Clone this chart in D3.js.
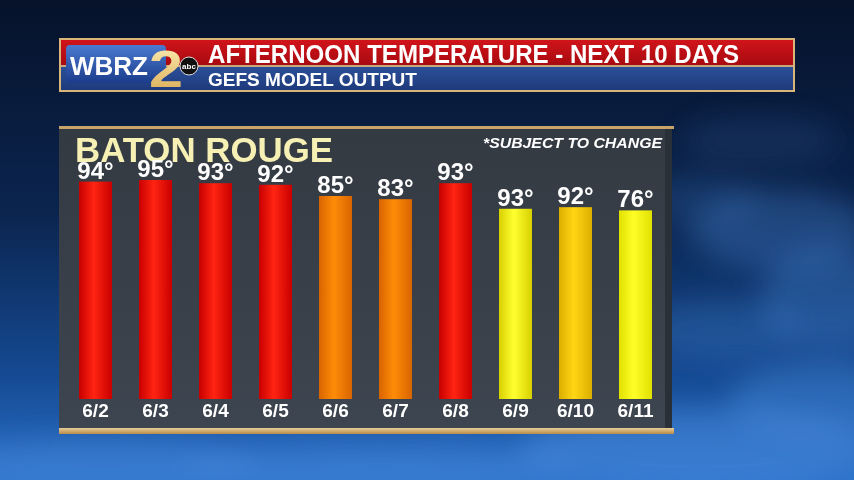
<!DOCTYPE html>
<html><head><meta charset="utf-8">
<script src="https://cdn.jsdelivr.net/npm/d3@7/dist/d3.min.js"></script>
<style>html,body{margin:0;padding:0;background:#0a1a30;overflow:hidden}svg{display:block}</style>
</head><body>
<script>
// ---- data ----
const dates = ["6/2","6/3","6/4","6/5","6/6","6/7","6/8","6/9","6/10","6/11"];
const tempLabels = [94,95,93,92,85,83,93,93,92,76];      // printed labels
const barTemps   = [94,95,93,92,85,83,93,77,78,76];      // heights as drawn in the graphic
const title = "AFTERNOON TEMPERATURE - NEXT 10 DAYS";
const subtitle = "GEFS MODEL OUTPUT";
const city = "BATON ROUGE";
const note = "*SUBJECT TO CHANGE";

const W = 854, H = 480;
const svg = d3.select("body").append("svg").attr("width", W).attr("height", H);
const defs = svg.append("defs");

// background
const bg = defs.append("linearGradient").attr("id","bg").attr("x1",0).attr("y1",0).attr("x2",0).attr("y2",1);
bg.append("stop").attr("offset","0%").attr("stop-color","#06122a");
bg.append("stop").attr("offset","45%").attr("stop-color","#0b2550");
bg.append("stop").attr("offset","78%").attr("stop-color","#154a92");
bg.append("stop").attr("offset","100%").attr("stop-color","#2a70c8");
svg.append("rect").attr("width",W).attr("height",H).attr("fill","url(#bg)");
const blur = defs.append("filter").attr("id","blur").attr("x","-50%").attr("y","-50%").attr("width","200%").attr("height","200%");
blur.append("feGaussianBlur").attr("stdDeviation",14);
const clouds = [[780,230,90,40,0.3],[830,300,70,50,0.3],[720,330,80,30,0.22],[700,200,60,25,0.18],
  [100,465,160,25,0.4],[380,468,200,22,0.4],[700,450,180,40,0.45],[820,400,90,40,0.35],[760,140,80,25,0.12]];
svg.append("g").attr("filter","url(#blur)").selectAll("ellipse").data(clouds).join("ellipse")
  .attr("cx",d=>d[0]).attr("cy",d=>d[1]).attr("rx",d=>d[2]).attr("ry",d=>d[3])
  .attr("fill","#4f92e4").attr("opacity",d=>d[4]);

// header
const hdr = svg.append("g");
hdr.append("rect").attr("x",59).attr("y",38).attr("width",736).attr("height",54).attr("fill","#d9b57a");
const rg = defs.append("linearGradient").attr("id","red").attr("x1",0).attr("y1",0).attr("x2",0).attr("y2",1);
rg.append("stop").attr("offset","0%").attr("stop-color","#d0141a");
rg.append("stop").attr("offset","100%").attr("stop-color","#a80a10");
hdr.append("rect").attr("x",61).attr("y",40).attr("width",732).attr("height",25).attr("fill","url(#red)");
hdr.append("rect").attr("x",61).attr("y",65).attr("width",732).attr("height",2).attr("fill","#c8a880");
const bl = defs.append("linearGradient").attr("id","blu").attr("x1",0).attr("y1",0).attr("x2",0).attr("y2",1);
bl.append("stop").attr("offset","0%").attr("stop-color","#2c4f98");
bl.append("stop").attr("offset","100%").attr("stop-color","#1e3a7c");
hdr.append("rect").attr("x",61).attr("y",67).attr("width",732).attr("height",23).attr("fill","url(#blu)");
// logo
const lg = defs.append("linearGradient").attr("id","logo").attr("x1",0).attr("y1",0).attr("x2",0).attr("y2",1);
lg.append("stop").attr("offset","0%").attr("stop-color","#4a7ad0");
lg.append("stop").attr("offset","100%").attr("stop-color","#1c3c8c");
hdr.append("rect").attr("x",66).attr("y",45).attr("width",100).attr("height",38).attr("rx",4).attr("fill","url(#logo)");
hdr.append("text").attr("x",70).attr("y",75).attr("font-family","Liberation Sans, Arial, sans-serif")
  .attr("font-weight","bold").attr("font-size",25).attr("fill","#ffffff").attr("textLength",78).attr("lengthAdjust","spacingAndGlyphs").text("WBRZ");
const gg = defs.append("linearGradient").attr("id","gold").attr("x1",0).attr("y1",0).attr("x2",0).attr("y2",1);
gg.append("stop").attr("offset","0%").attr("stop-color","#fff0b8");
gg.append("stop").attr("offset","100%").attr("stop-color","#d8a850");
hdr.append("text").attr("x",149).attr("y",87).attr("font-family","Liberation Sans, Arial, sans-serif")
  .attr("font-weight","bold").attr("font-size",52).attr("fill","url(#gold)").attr("textLength",34).attr("lengthAdjust","spacingAndGlyphs").text("2");
hdr.append("circle").attr("cx",189).attr("cy",66).attr("r",9).attr("fill","#111").attr("stroke","#ddd").attr("stroke-width",1);
hdr.append("text").attr("x",189).attr("y",69).attr("text-anchor","middle").attr("font-family","Liberation Sans, Arial, sans-serif")
  .attr("font-weight","bold").attr("font-size",8).attr("fill","#fff").text("abc");
hdr.append("text").attr("x",208).attr("y",63).attr("font-family","Liberation Sans, Arial, sans-serif")
  .attr("font-weight","bold").attr("font-size",25).attr("fill","#ffffff").attr("textLength",531).attr("lengthAdjust","spacingAndGlyphs").text(title);
hdr.append("text").attr("x",208).attr("y",86).attr("font-family","Liberation Sans, Arial, sans-serif")
  .attr("font-weight","bold").attr("font-size",19).attr("fill","#ffffff").attr("textLength",209).attr("lengthAdjust","spacingAndGlyphs").text(subtitle);

// panel
const pg = defs.append("linearGradient").attr("id","panel").attr("x1",0).attr("y1",0).attr("x2",0).attr("y2",1);
pg.append("stop").attr("offset","0%").attr("stop-color","#343a42");
pg.append("stop").attr("offset","100%").attr("stop-color","#3d4550");
svg.append("rect").attr("x",59).attr("y",128).attr("width",613).attr("height",302).attr("fill","url(#panel)");
svg.append("rect").attr("x",665).attr("y",128).attr("width",7).attr("height",302).attr("fill","#2a3038");
svg.append("rect").attr("x",59).attr("y",126).attr("width",615).attr("height",3).attr("fill","#c9a46a");
const gb = defs.append("linearGradient").attr("id","goldbar").attr("x1",0).attr("y1",0).attr("x2",0).attr("y2",1);
gb.append("stop").attr("offset","0%").attr("stop-color","#e8cf98");
gb.append("stop").attr("offset","100%").attr("stop-color","#b88a48");
svg.append("rect").attr("x",59).attr("y",428).attr("width",615).attr("height",6).attr("fill","url(#goldbar)");

svg.append("text").attr("x",75).attr("y",162).attr("font-family","Liberation Sans, Arial, sans-serif")
  .attr("font-weight","bold").attr("font-size",35).attr("fill","#f6f0b4").attr("textLength",258).attr("lengthAdjust","spacingAndGlyphs").text(city);
svg.append("text").attr("x",483).attr("y",148).attr("font-family","Liberation Sans, Arial, sans-serif")
  .attr("font-weight","bold").attr("font-style","italic").attr("font-size",15).attr("fill","#ffffff")
  .attr("textLength",179).attr("lengthAdjust","spacingAndGlyphs").text(note);

// scales
const x = d3.scaleBand().domain(dates).range([65.5, 665.5]).paddingInner(0.45).paddingOuter(0.225);
const y = d3.scaleLinear().domain([-42, 95]).range([399, 180]);
const color = d3.scaleOrdinal().domain(dates)
  .range([["#c80000","#ff2412"],["#c80000","#ff2412"],["#c80000","#ff2412"],["#c80000","#ff2412"],
          ["#d86400","#ff8c08"],["#d86400","#ff8c08"],["#c80000","#ff2412"],
          ["#d8d000","#ffff30"],["#dcae00","#ffd614"],["#e0e000","#ffff28"]]);
dates.forEach((d,i)=>{
  const c = color(d);
  const g = defs.append("linearGradient").attr("id","bar"+i).attr("x1",0).attr("y1",0).attr("x2",1).attr("y2",0);
  g.append("stop").attr("offset","0%").attr("stop-color",c[0]);
  g.append("stop").attr("offset","45%").attr("stop-color",c[1]);
  g.append("stop").attr("offset","100%").attr("stop-color",c[0]);
});
const data = dates.map((d,i)=>({date:d, label:tempLabels[i], v:barTemps[i], i}));
svg.append("g").selectAll("rect").data(data).join("rect")
  .attr("x",d=>x(d.date)).attr("width",x.bandwidth())
  .attr("y",d=>y(d.v)).attr("height",d=>y(-42)-y(d.v))
  .attr("fill",d=>"url(#bar"+d.i+")");
svg.append("g").selectAll("text").data(data).join("text")
  .attr("x",d=>x(d.date)+x.bandwidth()/2).attr("y",d=>y(d.v)-3).attr("text-anchor","middle")
  .attr("font-family","Liberation Sans, Arial, sans-serif").attr("font-weight","bold").attr("font-size",24)
  .attr("fill","#ffffff").text(d=>d.label+"°");
// x axis labels
const xAxis = d3.axisBottom(x).tickSize(0).tickPadding(0);
const ax = svg.append("g").attr("transform","translate(0,403)").call(xAxis);
ax.select(".domain").remove();
ax.selectAll("text").attr("dy",null).attr("y",14).attr("font-family","Liberation Sans, Arial, sans-serif")
  .attr("font-weight","bold").attr("font-size",19).attr("fill","#ffffff");
</script>
</body></html>
